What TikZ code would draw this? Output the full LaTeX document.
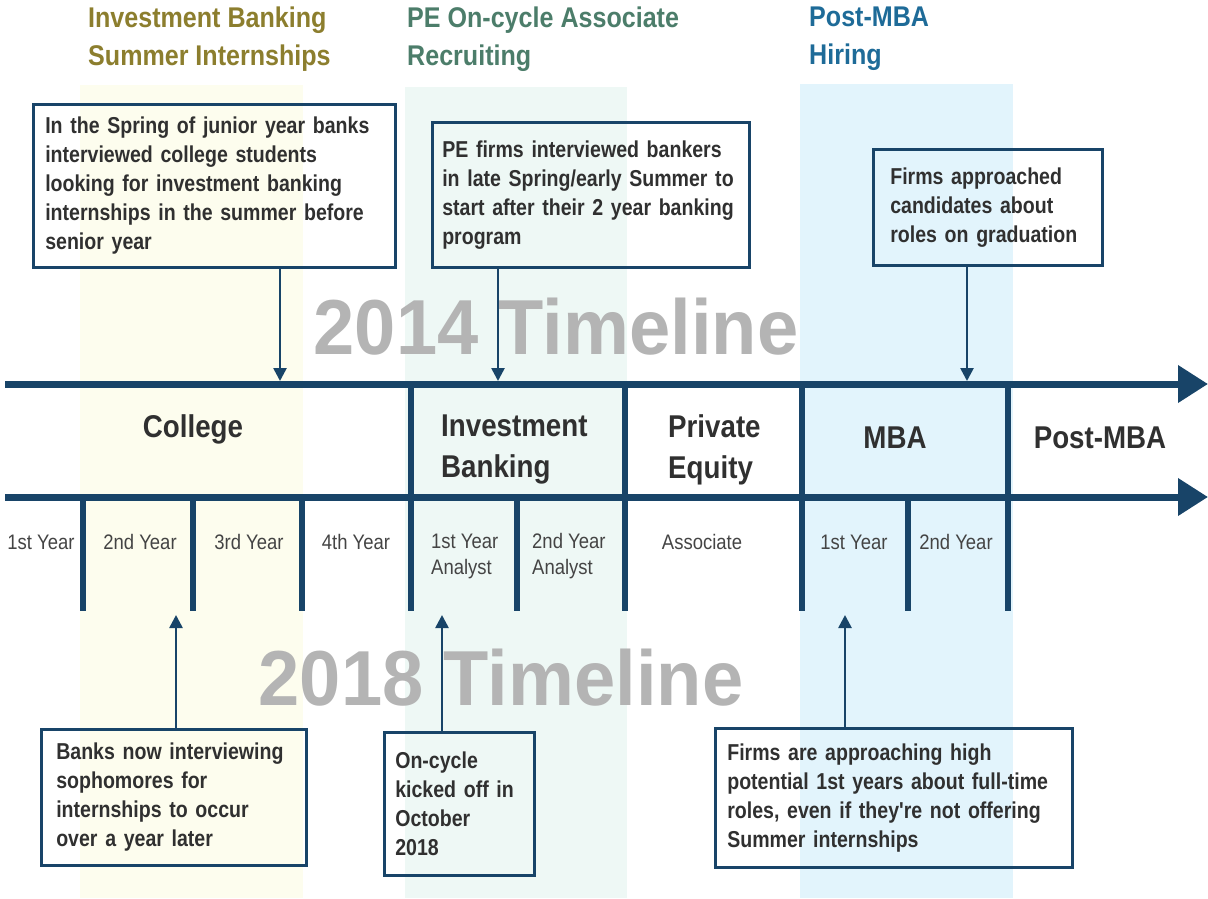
\documentclass[tikz,border=0pt]{standalone}
\usepackage{fontspec}
\setmainfont{Liberation Sans}[FakeStretch=0.88]
\newfontfamily\notefont{Liberation Sans}[FakeStretch=0.85]
\newfontfamily\bigfont{Liberation Sans}[FakeStretch=0.95]
\usetikzlibrary{arrows.meta}

\definecolor{navy}{HTML}{184468}
\definecolor{ink}{HTML}{303030}
\definecolor{ink2}{HTML}{444444}
\definecolor{bandyellow}{HTML}{FDFDEE}
\definecolor{bandgreen}{HTML}{EEF8F5}
\definecolor{bandblue}{HTML}{E2F4FC}
\definecolor{olive}{HTML}{8C7E2E}
\definecolor{teal}{HTML}{4C7D6A}
\definecolor{steel}{HTML}{1E6B98}
\definecolor{wmgray}{HTML}{B4B4B4}

\begin{document}
\begin{tikzpicture}[x=1pt,y=-1pt,
  navyline/.style={draw=navy, line width=7pt},
  divider/.style={draw=navy, line width=6pt},
  mainarrow/.style={navyline, -{Triangle[length=30pt,width=36pt]}},
  callout/.style={draw=navy, line width=2.6pt, anchor=north west, align=left,
    font=\notefont\bfseries\fontsize{23}{29}\selectfont, text=ink,
    execute at begin node={\hyphenpenalty=10000}},
  pointer/.style={draw=navy, line width=2.6pt, -{Triangle[length=13pt,width=13pt]}},
  title/.style={anchor=west, align=left, inner sep=0pt,
    font=\bfseries\fontsize{28.5}{38}\selectfont},
  stage/.style={align=left, inner sep=0pt, text=ink,
    font=\bfseries\fontsize{31.5}{41}\selectfont},
  yearlbl/.style={align=left, inner sep=0pt, text=ink2,
    font=\fontsize{21}{26}\selectfont},
  watermark/.style={text=wmgray, inner sep=0pt,
    font=\bigfont\bfseries\fontsize{78}{80}\selectfont}]

\useasboundingbox (0,0) rectangle (1208,898);

% recruiting-season bands
\fill[bandyellow] (80,85) rectangle (303,898);
\fill[bandgreen] (405,87) rectangle (627,898);
\fill[bandblue] (800,84) rectangle (1013,898);

% band headings
\node[title, text=olive] (h1) at (88,39) {Investment Banking\\Summer Internships};
\node[title, text=teal] (h2) at (407,39) {PE On-cycle Associate\\Recruiting};
\node[title, text=steel] (h3) at (809,39) {Post-MBA\\Hiring};

% timeline captions
\node[watermark] (w1) at (556,327) {2014 Timeline};
\node[watermark] (w2) at (501,678) {2018 Timeline};

% the two timelines
\coordinate (a0) at (5,384);
\coordinate (a1) at (1208,384);
\coordinate (c0) at (5,497);
\coordinate (c1) at (1208,497);
\draw[mainarrow] (a0) -- (a1);
\draw[mainarrow] (c0) -- (c1);

% stage dividers between the timelines
\foreach \x in {411,625,802,1008}
  \draw[divider] (\x,384) -- (\x,497);
% year dividers below
\foreach \x in {83,193,302,411,517,625,802,908,1008}
  \draw[divider] (\x,497) -- (\x,611);

% stages
\node[stage] (s1) at (193,429) {College};
\node[stage, anchor=west] (s2) at (441,449.5) {Investment\\Banking};
\node[stage, anchor=west] (s3) at (668,449.5) {Private\\Equity};
\node[stage] (s4) at (895,438) {MBA};
\node[stage] (s5) at (1100,438) {Post-MBA};

% years
\node[yearlbl] (y1) at (41,542) {1st Year};
\node[yearlbl] (y2) at (140,542) {2nd Year};
\node[yearlbl] (y3) at (249,542) {3rd Year};
\node[yearlbl] (y4) at (356,542) {4th Year};
\node[yearlbl, anchor=west] (y5) at (431,556) {1st Year\\Analyst};
\node[yearlbl, anchor=west] (y6) at (532,556) {2nd Year\\Analyst};
\node[yearlbl] (y7) at (702,542) {Associate};
\node[yearlbl] (y8) at (854,542) {1st Year};
\node[yearlbl] (y9) at (956,542) {2nd Year};

% 2014 notes
\node[callout, inner xsep=12pt, text width=338pt, minimum height=163pt] (b1) at (32,103)
  {In the Spring of junior year banks\\interviewed college students\\looking for investment banking\\internships in the summer before\\senior year};
\node[callout, inner xsep=10pt, text width=297pt, minimum height=145pt] (b2) at (431,121)
  {PE firms interviewed bankers\\in late Spring/early Summer to\\start after their 2 year banking\\program};
\node[callout, inner xsep=17pt, text width=195pt, minimum height=116pt] (b3) at (872,148)
  {Firms approached\\candidates about\\roles on graduation};

\coordinate (p1) at (280,381);
\coordinate (p2) at (498,381);
\coordinate (p3) at (967,381);
\draw[pointer] (b1.south -| p1) -- (p1);
\draw[pointer] (b2.south -| p2) -- (p2);
\draw[pointer] (b3.south -| p3) -- (p3);

% 2018 notes
\node[callout, inner xsep=15pt, text width=235pt, minimum height=136pt] (b4) at (40,728)
  {Banks now interviewing\\sophomores for\\internships to occur\\over a year later};
\node[callout, inner xsep=11pt, text width=128pt, minimum height=143pt] (b5) at (383,731)
  {On-cycle\\kicked off in\\October\\2018};
\node[callout, inner xsep=12pt, text width=333pt, minimum height=139pt] (b6) at (714,727)
  {Firms are approaching high\\potential 1st years about full-time\\roles, even if they're not offering\\Summer internships};

\coordinate (q1) at (176,615);
\coordinate (q2) at (442,615);
\coordinate (q3) at (845,615);
\draw[pointer] (b4.north -| q1) -- (q1);
\draw[pointer] (b5.north -| q2) -- (q2);
\draw[pointer] (b6.north -| q3) -- (q3);

\end{tikzpicture}
\end{document}
